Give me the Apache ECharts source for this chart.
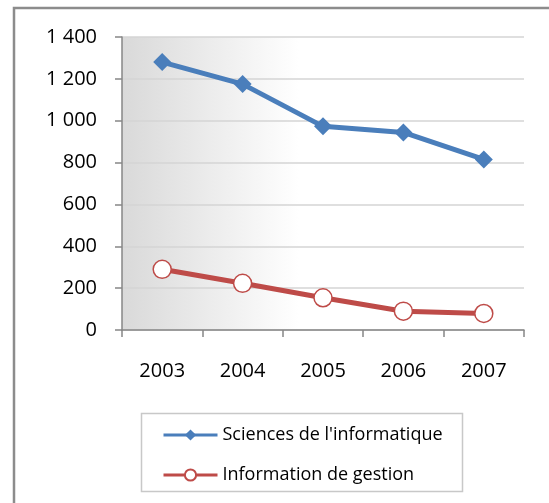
<!DOCTYPE html>
<html>
<head>
<meta charset="utf-8">
<script src="https://cdn.jsdelivr.net/npm/echarts@6/dist/echarts.min.js"></script>
<style>
  html, body { margin: 0; padding: 0; background: #fff; }
  #main { width: 549px; height: 503px; }
</style>
</head>
<body>
<div id="main"></div>
<script>
var years = ['2003', '2004', '2005', '2006', '2007'];
var sciencesInfo = [1280, 1175, 973, 944, 815];
var infoGestion = [290, 223, 154, 90, 79];
var yTicks = [0, 200, 400, 600, 800, 1000, 1200, 1400];

var chart = echarts.init(document.getElementById('main'));

function spaced(v) {
    // 1400 -> "1 400"
    return String(v).replace(/\B(?=(\d{3})+(?!\d))/g, ' ');
}

var option = {
    animation: false,
    textStyle: { fontFamily: 'Open Sans' },
    graphic: [
        {
            type: 'polyline',
            shape: { points: [[14, 503], [14, 8], [549, 8]] },
            style: { stroke: '#8c8c8c', lineWidth: 2.5, fill: null }
        },
        {
            type: 'rect',
            shape: { x: 141.5, y: 413.5, width: 321, height: 78 },
            style: { stroke: '#c8c8c8', lineWidth: 1.5, fill: '#fff' },
            z: -1
        }
    ],
    grid: {
        left: 122, right: 25, top: 37, bottom: 173,
        show: true,
        borderWidth: 0,
        backgroundColor: {
            type: 'linear', x: 0, y: 0, x2: 1, y2: 0,
            colorStops: [
                { offset: 0, color: '#d9d9d9' },
                { offset: 0.44, color: '#ffffff' },
                { offset: 1, color: '#ffffff' }
            ]
        }
    },
    legend: {
        orient: 'vertical',
        left: 162, top: 426,
        padding: 0,
        itemWidth: 54, itemHeight: 14, itemGap: 22,
        lineStyle: { width: 3 },
        textStyle: { fontSize: 18, color: '#000', fontFamily: 'Open Sans' },
        data: ['Sciences de l\'informatique', 'Information de gestion']
    },
    xAxis: {
        type: 'category',
        data: years,
        axisLine: { lineStyle: { color: '#868686', width: 1.5 } },
        axisTick: { show: true, length: 7, lineStyle: { color: '#868686', width: 1.5 } },
        axisLabel: { margin: 31, fontSize: 20, color: '#000' }
    },
    yAxis: {
        type: 'value',
        min: yTicks[0], max: yTicks[yTicks.length - 1], interval: 200,
        axisLine: { show: true, lineStyle: { color: '#868686', width: 1.5 } },
        axisTick: { show: true, length: 7, lineStyle: { color: '#868686', width: 1.5 } },
        splitLine: { lineStyle: { color: '#d4d4d4', width: 1.5 } },
        axisLabel: { margin: 25, fontSize: 20, color: '#000', formatter: spaced }
    },
    series: [
        {
            name: 'Sciences de l\'informatique',
            type: 'line',
            data: sciencesInfo,
            symbol: 'diamond',
            symbolSize: 18,
            lineStyle: { color: '#4a7ebb', width: 5 },
            itemStyle: { color: '#4a7ebb' }
        },
        {
            name: 'Information de gestion',
            type: 'line',
            data: infoGestion,
            symbol: 'circle',
            symbolSize: 18,
            lineStyle: { color: '#be4b48', width: 5 },
            itemStyle: { color: '#fff', borderColor: '#be4b48', borderWidth: 1.5 }
        }
    ]
};

chart.setOption(option);
</script>
</body>
</html>
